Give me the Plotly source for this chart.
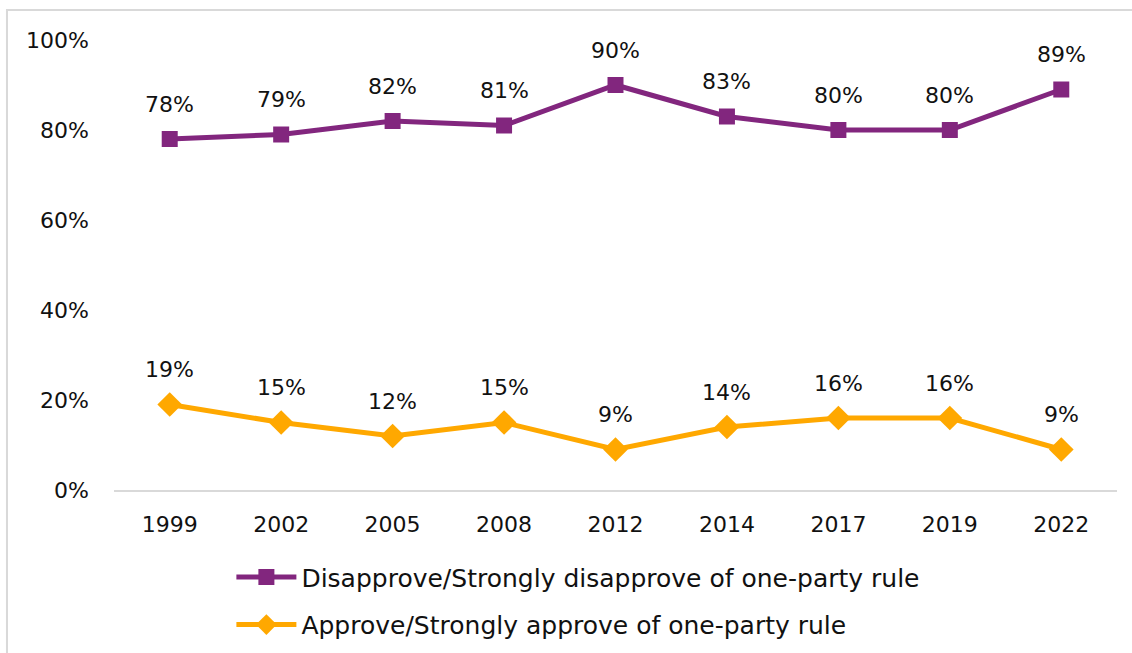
import plotly.graph_objects as go

years = ["1999", "2002", "2005", "2008", "2012", "2014", "2017", "2019", "2022"]
disapprove = [78, 79, 82, 81, 90, 83, 80, 80, 89]
approve = [19, 15, 12, 15, 9, 14, 16, 16, 9]
y_ticks = [0, 20, 40, 60, 80, 100]

PURPLE = "#82267e"
ORANGE = "#ffa800"
FONT = "DejaVu Sans"

fig = go.Figure()
fig.add_trace(go.Scatter(
    x=years, y=disapprove, mode="lines+markers",
    name="Disapprove/Strongly disapprove of one-party rule",
    line=dict(color=PURPLE, width=5),
    marker=dict(symbol="square", size=16, color=PURPLE),
    legendgroup="a",
))
fig.add_trace(go.Scatter(
    x=years, y=approve, mode="lines+markers",
    name="Approve/Strongly approve of one-party rule",
    line=dict(color=ORANGE, width=5),
    marker=dict(symbol="diamond", size=19, color=ORANGE),
    legendgroup="b",
))

# value labels above each point (x given as category index)
for series in (disapprove, approve):
    for i, v in enumerate(series):
        fig.add_annotation(x=i, y=v, xref="x", yref="y", text=f"{v}%", showarrow=False,
                           yshift=35, font=dict(family=FONT, size=22, color="#111111"))

# light frame around the chart
fig.add_shape(type="rect", xref="paper", yref="paper",
              x0=-0.1067, x1=1.05, y0=-0.4, y1=1.0667,
              line=dict(color="#d9d9d9", width=2), fillcolor="rgba(0,0,0,0)", layer="below")

fig.update_layout(
    width=1132, height=653,
    margin=dict(l=114, r=15, t=40, b=163, autoexpand=False),
    paper_bgcolor="white", plot_bgcolor="white",
    font=dict(family=FONT, size=22, color="#111111"),
    xaxis=dict(type="category", range=[-0.5, 8.5], showgrid=False,
               showline=True, linecolor="#d9d9d9", linewidth=2,
               ticks="", ticklabelstandoff=14, zeroline=False),
    yaxis=dict(range=[0, 100], tickvals=y_ticks, ticktext=[f"{t}%" for t in y_ticks],
               showgrid=False, zeroline=False, showline=False, ticks="",
               ticklabelstandoff=24),
    legend=dict(orientation="v", x=0.463, xanchor="center", y=-0.143, yanchor="top",
                tracegroupgap=12, font=dict(size=25), itemwidth=60),
    showlegend=True,
)

fig.write_html("out.html")
